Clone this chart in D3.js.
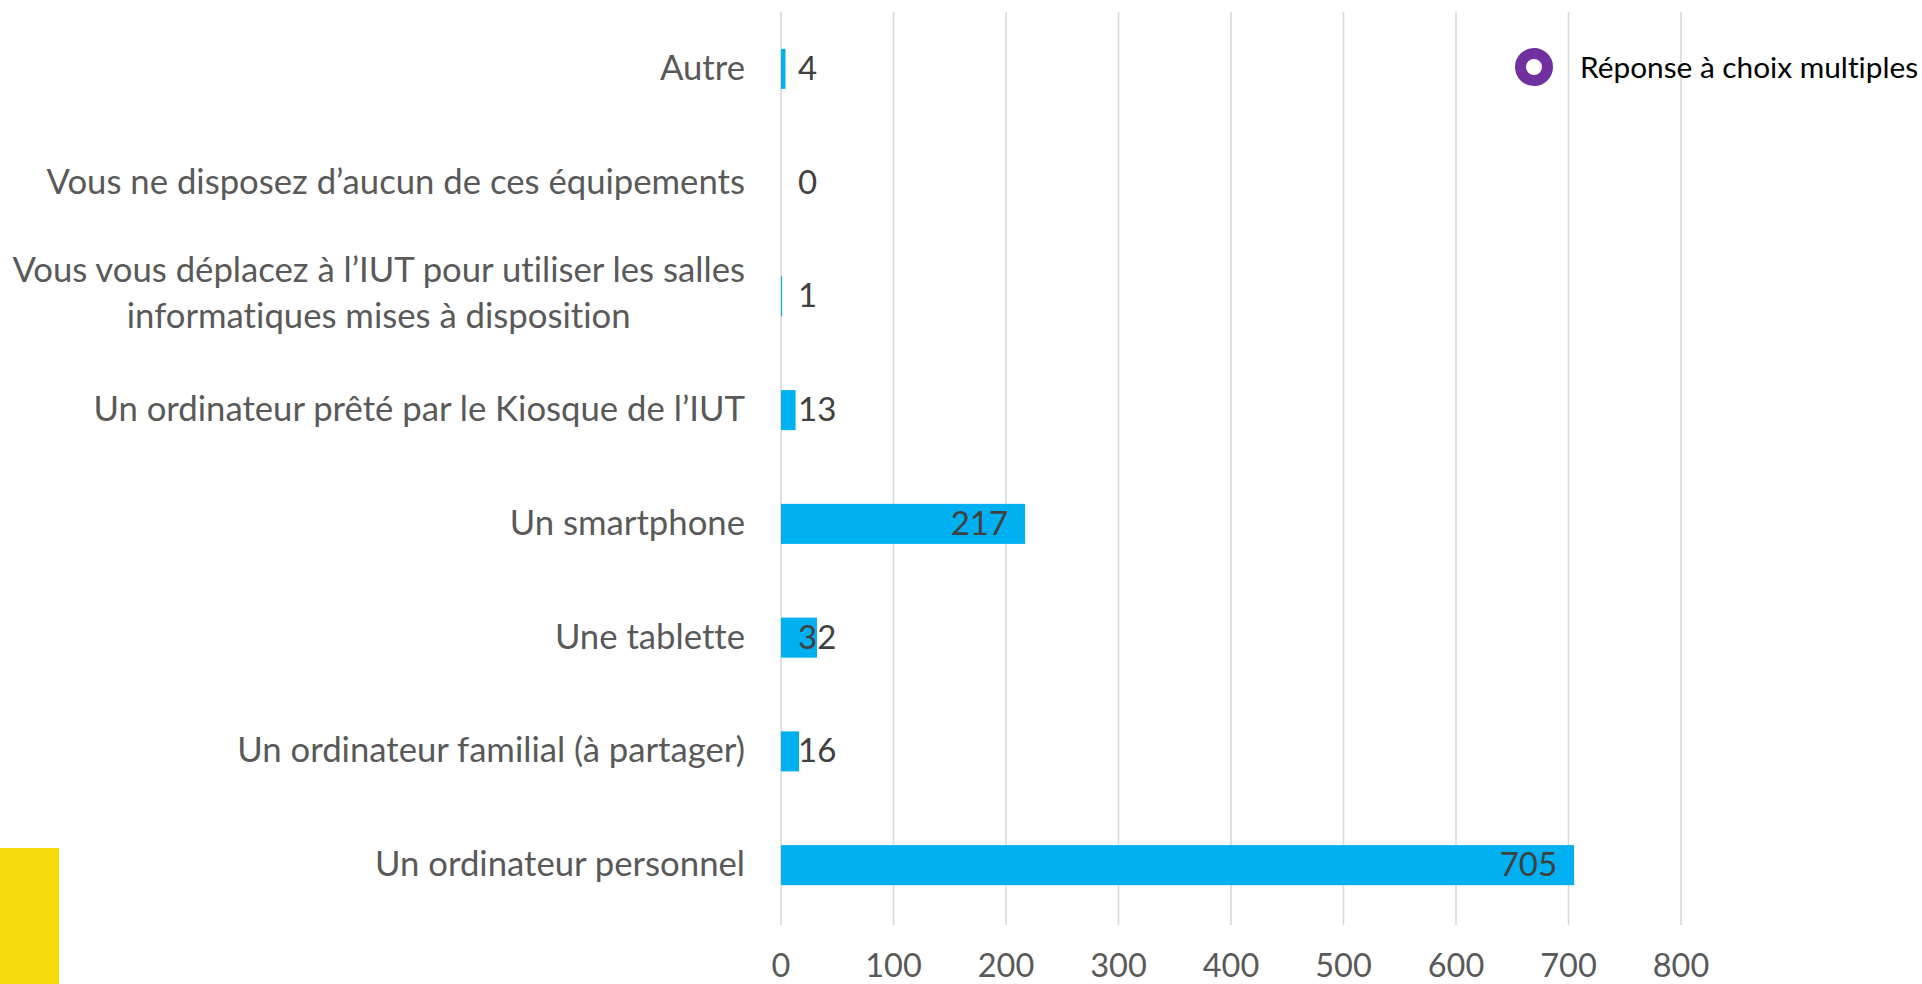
<!DOCTYPE html>
<html><head><meta charset="utf-8">
<script src="https://cdn.jsdelivr.net/npm/d3@7"></script>
<style>html,body{margin:0;padding:0;background:#fff;overflow:hidden;}
text{font-variant-ligatures:none;font-feature-settings:"liga" 0,"clig" 0;}</style>
</head><body>
<svg id="chart" width="1922" height="984"></svg>
<script>
const categories = [
  ["Autre"],
  ["Vous ne disposez d’aucun de ces équipements"],
  ["Vous vous déplacez à l’IUT pour utiliser les salles", "informatiques mises à disposition"],
  ["Un ordinateur prêté par le Kiosque de l’IUT"],
  ["Un smartphone"],
  ["Une tablette"],
  ["Un ordinateur familial (à partager)"],
  ["Un ordinateur personnel"]
];
const values = [4, 0, 1, 13, 217, 32, 16, 705];
const ticks = [0, 100, 200, 300, 400, 500, 600, 700, 800];
const legendLabel = "Réponse à choix multiples";

const font = "Lato, 'Open Sans', sans-serif";
const svg = d3.select("#chart");

// decorative yellow block
svg.append("rect").attr("x", 0).attr("y", 848).attr("width", 59).attr("height", 136).attr("fill", "#F6DC0B");

const x = d3.scaleLinear().domain([0, 800]).range([781, 1681]);
const y = d3.scaleBand().domain(d3.range(categories.length)).range([12, 922]).paddingInner(0.648).paddingOuter(0.324);

// gridlines
svg.append("g").selectAll("line").data(ticks).join("line")
  .attr("x1", d => x(d)).attr("x2", d => x(d))
  .attr("y1", 12).attr("y2", 925)
  .attr("stroke", "#d9d9d9").attr("stroke-width", 1.6);

// tick labels
svg.append("g").selectAll("text").data(ticks).join("text")
  .attr("x", d => x(d)).attr("y", 977)
  .attr("text-anchor", "middle")
  .attr("font-family", font).attr("font-size", 32.5)
  .attr("fill", "#595959")
  .text(d => d);

// bars
svg.append("g").selectAll("rect").data(values).join("rect")
  .attr("x", x(0)).attr("y", (d, i) => y(i))
  .attr("width", d => x(d) - x(0)).attr("height", y.bandwidth())
  .attr("fill", "#00B0F0");

// category labels
const cat = svg.append("g").selectAll("text").data(categories).join("text")
  .attr("font-family", font).attr("font-size", 34.7)
  .attr("fill", "#595959");
cat.each(function(lines, i) {
  const t = d3.select(this);
  const cy = y(i) + y.bandwidth() / 2;
  if (lines.length === 1) {
    t.attr("text-anchor", "end");
    t.append("tspan").attr("x", 745).attr("y", cy + 11).text(lines[0]);
  } else {
    t.attr("text-anchor", "middle");
    const first = t.append("tspan").attr("x", 745).attr("y", cy - 14).text(lines[0]);
    const w = first.node().getComputedTextLength();
    const mid = 745 - w / 2;
    first.attr("x", mid);
    t.append("tspan").attr("x", mid).attr("y", cy + 32).text(lines[1]);
  }
});

// value labels
svg.append("g").selectAll("text").data(values).join("text")
  .attr("font-family", font).attr("font-size", 33)
  .attr("fill", "#404040")
  .attr("y", (d, i) => y(i) + y.bandwidth() / 2 + 11)
  .text(d => d)
  .each(function(d) {
    const w = this.getComputedTextLength();
    const endInside = x(d) - 17;
    if (endInside - w > 797) {
      d3.select(this).attr("x", endInside).attr("text-anchor", "end");
    } else {
      d3.select(this).attr("x", 798).attr("text-anchor", "start");
    }
  });

// legend
svg.append("circle").attr("cx", 1534).attr("cy", 67).attr("r", 13.5)
  .attr("fill", "none").attr("stroke", "#7030A0").attr("stroke-width", 11);
svg.append("text").attr("x", 1580).attr("y", 78)
  .attr("font-family", font).attr("font-size", 29.8).attr("fill", "#000")
  .text(legendLabel);
</script>
</body></html>
